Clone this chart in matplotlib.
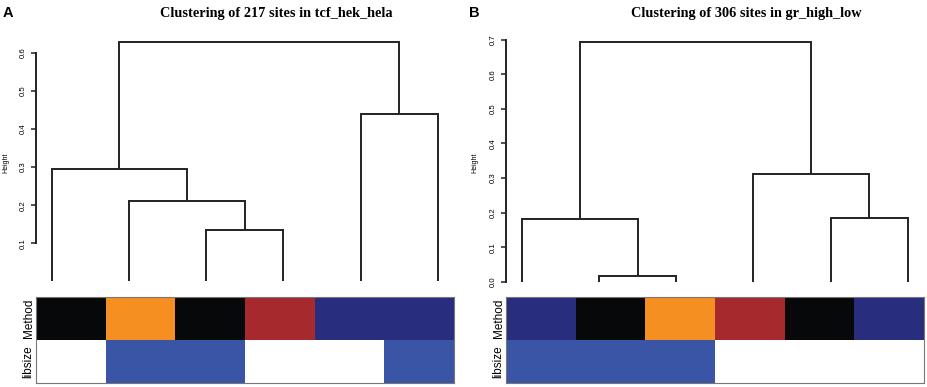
import matplotlib.pyplot as plt

W, H = 927, 387

# dendrogram merges, R style: negative = leaf, positive = earlier merge (1-based)
merges_a = [(-3, -4), (-2, 1), (-1, 2), (-5, -6), (3, 4)]
heights_a = [0.134, 0.212, 0.294, 0.440, 0.628]
merges_b = [(-2, -3), (-1, 1), (-5, -6), (-4, 3), (2, 4)]
heights_b = [0.0165, 0.181, 0.183, 0.312, 0.692]

titles = ["Clustering of 217 sites in tcf_hek_hela", "Clustering of 306 sites in gr_high_low"]
letters = ["A", "B"]

# colour bars under the leaves
palette = {"black": "#07080a", "orange": "#f68f21", "red": "#a5292d",
           "navy": "#282d7e", "blue": "#3a55a5", "white": "#ffffff"}
method_a = ["black", "orange", "black", "red", "navy", "navy"]
libsize_a = ["white", "blue", "blue", "white", "white", "blue"]
method_b = ["navy", "black", "orange", "red", "black", "navy"]
libsize_b = ["blue", "blue", "blue", "white", "white", "white"]

yticks_a = [0.1, 0.2, 0.3, 0.4, 0.5, 0.6]
yticks_b = [0.0, 0.1, 0.2, 0.3, 0.4, 0.5, 0.6, 0.7]


def px(x0, y0, x1, y1):
    return [x0 / W, 1 - y1 / H, (x1 - x0) / W, (y1 - y0) / H]


def draw_dendro(ax, merges, heights):
    nodes = []
    for (a, b), h in zip(merges, heights):
        ends = []
        for c in (a, b):
            if c < 0:
                ends.append((-c, 0.0))
            else:
                ends.append(nodes[c - 1])
        (xa, ha), (xb, hb) = ends
        ax.plot([xa, xa, xb, xb], [ha, h, h, hb], color="#222222", lw=1.4,
                solid_joinstyle="miter", solid_capstyle="butt")
        nodes.append(((xa + xb) / 2, h))


def draw_bar(ax, method, libsize):
    x = range(len(method))
    ax.bar(x, 1, bottom=1, width=1, color=[palette[c] for c in method], lw=0)
    ax.bar(x, 1, bottom=0, width=1, color=[palette[c] for c in libsize], lw=0)
    ax.set_xlim(-0.5, len(method) - 0.5)
    ax.set_ylim(0, 2)
    ax.set_xticks([])
    ax.set_yticks([0.5, 1.5])
    ax.set_yticklabels(["libsize", "Method"], rotation=90, va="center",
                       fontsize=8.5, family="Liberation Sans")
    ax.tick_params(axis="y", length=0, pad=1)
    for s in ax.spines.values():
        s.set_color("#777777")
        s.set_linewidth(0.8)


fig = plt.figure(figsize=(W / 100, H / 100), dpi=100)

panels = [
    (merges_a, heights_a, yticks_a, (-0.0095, 0.6388), (0.1, 0.6), 36.2, 453.5,
     method_a, libsize_a, 276.7, 3, 6),
    (merges_b, heights_b, yticks_b, (-0.0095, 0.705), (0.0, 0.7), 506.2, 923.5,
     method_b, libsize_b, 746, 469, 475),
]

for i, (merges, heights, yt, ylim, bounds, x0, x1, meth, lib, tx, lx, hx) in enumerate(panels):
    ax = fig.add_axes(px(x0, 38, x1, 285))
    draw_dendro(ax, merges, heights)
    ax.set_xlim(0.8, 6.2)
    ax.set_ylim(*ylim)
    ax.set_xticks([])
    ax.set_yticks(yt)
    ax.set_yticklabels([f"{v:.1f}" for v in yt], rotation=90, va="center",
                       fontsize=5.6, family="Liberation Sans")
    ax.tick_params(axis="y", length=3.5, width=1.1, pad=3, color="#222222")
    for s in ["top", "right", "bottom"]:
        ax.spines[s].set_visible(False)
    ax.spines["left"].set_bounds(*bounds)
    ax.spines["left"].set_linewidth(1.4)
    ax.spines["left"].set_color("#222222")
    ax.patch.set_alpha(0)

    bar_ax = fig.add_axes(px(x0 - 0.2, 296.7, x1 + 0.3, 382.7))
    draw_bar(bar_ax, meth, lib)

    fig.text(tx / W, 1 - 17.3 / H, titles[i], ha="center", va="baseline",
             fontsize=10.3, fontweight="bold", family="Liberation Serif")
    fig.text(lx / W, 1 - 16.7 / H, letters[i], ha="left", va="baseline",
             fontsize=10.5, fontweight="bold", family="Liberation Sans")
    fig.text(hx / W, 1 - 163 / H, "Height", ha="center", va="center",
             rotation=90, fontsize=5, family="Liberation Sans")

fig.savefig("out.png", dpi=100)
